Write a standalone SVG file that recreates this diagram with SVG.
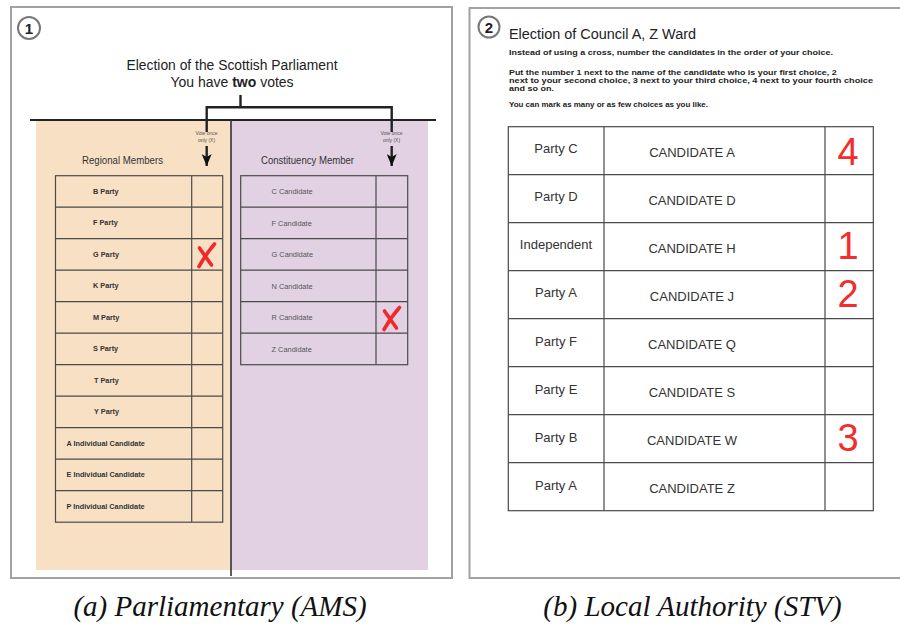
<svg xmlns="http://www.w3.org/2000/svg" width="900" height="624" viewBox="0 0 900 624">
<defs>
<style>
.frame{fill:#fff;stroke:#a2a2a2;stroke-width:2}
.badge{fill:#fff;stroke:#777;stroke-width:2}
.badgeT{font-family:"Liberation Sans",Arial,sans-serif;font-weight:bold;font-size:15px;fill:#222;text-anchor:middle}
.grid{fill:none;stroke:#4a4a4a;stroke-width:1.2}
.lt{font-family:"Liberation Sans",Arial,sans-serif;font-weight:bold;font-size:7.3px;fill:#333}
.rt{font-family:"Liberation Sans",Arial,sans-serif;font-size:7.4px;fill:#555}
.hd{font-family:"Liberation Sans",Arial,sans-serif;font-size:10px;fill:#333;text-anchor:middle}
.tiny{font-family:"Liberation Sans",Arial,sans-serif;font-size:5px;fill:#555;text-anchor:middle}
.title{font-family:"Liberation Sans",Arial,sans-serif;font-size:14px;fill:#222}
.instr{font-family:"Liberation Sans",Arial,sans-serif;font-weight:bold;font-size:8px;fill:#222}
.stv{font-family:"Liberation Sans",Arial,sans-serif;font-size:13px;fill:#333;text-anchor:middle}
.num{font-family:"Liberation Sans",Arial,sans-serif;font-size:38px;fill:#f42c2c;text-anchor:middle}
.cross{fill:none;stroke:#f02a2a;stroke-width:3.6;stroke-linecap:round}
.bracket{fill:none;stroke:#222;stroke-width:2.4}
.cap{font-family:"Liberation Serif","Times New Roman",serif;font-style:italic;font-size:29px;fill:#111;text-anchor:middle}
</style>
<marker id="ah" viewBox="0 0 12 10" refX="12" refY="5" markerWidth="12" markerHeight="10" markerUnits="userSpaceOnUse" orient="auto">
<path d="M0,0 L12,5 L0,10 L3,5 Z" fill="#111"/>
</marker>
</defs>
<rect width="900" height="624" fill="#fff"/>

<g id="panel-a">
<rect class="frame" x="11" y="7" width="441" height="571"/>
<circle class="badge" cx="29" cy="28" r="11"/>
<text class="badgeT" x="29" y="33.5">1</text>
<text class="title" x="232" y="70" text-anchor="middle" textLength="211" lengthAdjust="spacingAndGlyphs">Election of the Scottish Parliament</text>
<text class="title" x="232" y="87" text-anchor="middle">You have <tspan font-weight="bold">two</tspan> votes</text>
<rect x="36" y="121" width="195" height="449" fill="#f8e0c5"/>
<rect x="231" y="121" width="197" height="449" fill="#e2d1e3"/>
<line x1="30" y1="120" x2="436" y2="120" stroke="#222" stroke-width="2.2"/>
<line x1="231" y1="120" x2="231" y2="576" stroke="#333" stroke-width="1.6"/>
<text class="hd" x="122.5" y="164" textLength="81" lengthAdjust="spacingAndGlyphs">Regional Members</text>
<text class="hd" x="307.5" y="164" textLength="93" lengthAdjust="spacingAndGlyphs">Constituency Member</text>
<text class="tiny" x="206.5" y="135">Vote once</text>
<text class="tiny" x="206.5" y="142">only (X)</text>
<text class="tiny" x="391.5" y="135">Vote once</text>
<text class="tiny" x="391.5" y="142">only (X)</text>
</g>

<g id="regional-table">
<rect class="grid" x="55.5" y="175.7" width="167.2" height="346.5"/>
<line class="grid" x1="191.7" y1="175.7" x2="191.7" y2="522.2"/>
<path class="grid" d="M55.5 207.2H222.7M55.5 238.7H222.7M55.5 270.2H222.7M55.5 301.7H222.7M55.5 333.2H222.7M55.5 364.7H222.7M55.5 396.2H222.7M55.5 427.7H222.7M55.5 459.2H222.7M55.5 490.7H222.7"/>
<text class="lt" x="93" y="193.5">B Party</text>
<text class="lt" x="93" y="225">F Party</text>
<text class="lt" x="93" y="256.5">G Party</text>
<text class="lt" x="93" y="288">K Party</text>
<text class="lt" x="93" y="319.5">M Party</text>
<text class="lt" x="93" y="351">S Party</text>
<text class="lt" x="94" y="382.5">T Party</text>
<text class="lt" x="94" y="414">Y Party</text>
<text class="lt" x="66.5" y="445.5">A Individual Candidate</text>
<text class="lt" x="66.5" y="477">E Individual Candidate</text>
<text class="lt" x="66.5" y="508.5">P Individual Candidate</text>
<path class="cross" d="M214.5 244 Q206 254 199 266.5M199.5 248 Q205 256 211.5 265"/>
</g>

<g id="constituency-table">
<rect class="grid" x="240.7" y="175.7" width="167" height="189"/>
<line class="grid" x1="376" y1="175.7" x2="376" y2="364.7"/>
<path class="grid" d="M240.7 207.2H407.7M240.7 238.7H407.7M240.7 270.2H407.7M240.7 301.7H407.7M240.7 333.2H407.7"/>
<text class="rt" x="271.5" y="194.3">C Candidate</text>
<text class="rt" x="271.5" y="225.8">F Candidate</text>
<text class="rt" x="271.5" y="257.3">G Candidate</text>
<text class="rt" x="271.5" y="288.8">N Candidate</text>
<text class="rt" x="271.5" y="320.3">R Candidate</text>
<text class="rt" x="271.5" y="351.8">Z Candidate</text>
<path class="cross" d="M399.5 307.5 Q391 317 384 329.5M384.5 311 Q390 319 396.5 328"/>
</g>

<g id="connectors">
<path class="bracket" d="M240.5 95V107.3M206.7 107.3H391.7M206.7 106V132M391.7 106V132"/>
<path class="bracket" d="M206.7 146V166" marker-end="url(#ah)"/>
<path class="bracket" d="M391.7 146V166" marker-end="url(#ah)"/>
</g>

<g id="panel-b">
<rect class="frame" x="469.5" y="8" width="445" height="570"/>
<circle class="badge" cx="489" cy="27" r="10.5"/>
<text class="badgeT" x="489" y="32.5">2</text>
<text class="title" x="509" y="38.5" textLength="187" lengthAdjust="spacingAndGlyphs">Election of Council A, Z Ward</text>
<text class="instr" x="509" y="55" textLength="324" lengthAdjust="spacingAndGlyphs">Instead of using a cross, number the candidates in the order of your choice.</text>
<text class="instr" x="509" y="75.3" textLength="327.7" lengthAdjust="spacingAndGlyphs">Put the number 1 next to the name of the candidate who is your first choice, 2</text>
<text class="instr" x="509" y="83.3" textLength="364" lengthAdjust="spacingAndGlyphs">next to your second choice, 3 next to your third choice, 4 next to your fourth choice</text>
<text class="instr" x="509" y="91" textLength="45" lengthAdjust="spacingAndGlyphs">and so on.</text>
<text class="instr" x="509" y="107.3" textLength="199" lengthAdjust="spacingAndGlyphs">You can mark as many or as few choices as you like.</text>
</g>

<g id="stv-table">
<rect class="grid" x="508.3" y="126.7" width="365" height="384"/>
<path class="grid" d="M604 126.7V510.7M825 126.7V510.7"/>
<path class="grid" d="M508.3 174.7H873.3M508.3 222.7H873.3M508.3 270.7H873.3M508.3 318.7H873.3M508.3 366.7H873.3M508.3 414.7H873.3M508.3 462.7H873.3"/>
<text class="stv" x="556" y="153.2">Party C</text>
<text class="stv" x="692" y="157.3">CANDIDATE A</text>
<text class="num" x="848" y="165">4</text>
<text class="stv" x="556" y="201.2">Party D</text>
<text class="stv" x="692" y="205.3">CANDIDATE D</text>
<text class="stv" x="556" y="249.2">Independent</text>
<text class="stv" x="692" y="253.3">CANDIDATE H</text>
<text class="num" x="848" y="258.5">1</text>
<text class="stv" x="556" y="297.2">Party A</text>
<text class="stv" x="692" y="301.3">CANDIDATE J</text>
<text class="num" x="848" y="306.5">2</text>
<text class="stv" x="556" y="345.7">Party F</text>
<text class="stv" x="692" y="349.3">CANDIDATE Q</text>
<text class="stv" x="556" y="393.7">Party E</text>
<text class="stv" x="692" y="397.3">CANDIDATE S</text>
<text class="stv" x="556" y="441.7">Party B</text>
<text class="stv" x="692" y="445.3">CANDIDATE W</text>
<text class="num" x="848" y="451">3</text>
<text class="stv" x="556" y="489.7">Party A</text>
<text class="stv" x="692" y="493.3">CANDIDATE Z</text>
</g>

<g id="captions">
<text class="cap" x="220" y="616">(a) Parliamentary (AMS)</text>
<text class="cap" x="692.5" y="616">(b) Local Authority (STV)</text>
</g>
</svg>
